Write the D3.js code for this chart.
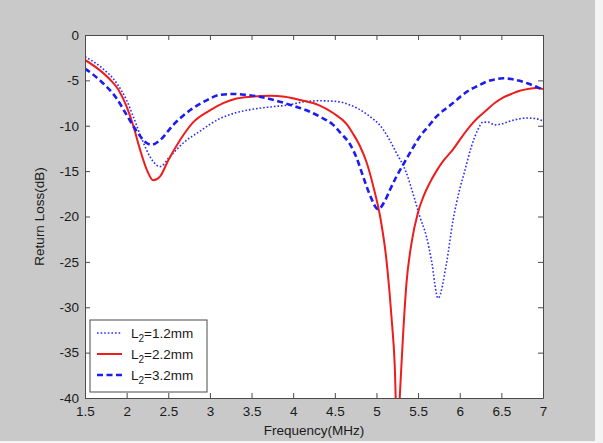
<!DOCTYPE html>
<html>
<head>
<meta charset="utf-8">
<script src="https://cdn.jsdelivr.net/npm/d3@7"></script>
<style>
  body { margin: 0; background: #f4f4f4; }
  svg { display: block; font-family: "Liberation Sans", Arial, sans-serif; }
</style>
</head>
<body>
<div class="chart"></div>
<script>
// series data (frequency in MHz, return loss in dB)
var freq12 = [1.5, 1.7, 1.88, 2.0, 2.08, 2.18, 2.28, 2.4, 2.52, 2.68, 2.88, 3.1, 3.3, 3.5, 3.75, 3.95, 4.1, 4.3, 4.5, 4.68, 4.88, 5.08, 5.24, 5.36, 5.44, 5.52, 5.6, 5.66, 5.74, 5.84, 5.92, 6.0, 6.06, 6.14, 6.22, 6.28, 6.34, 6.42, 6.5, 6.64, 6.8, 6.9, 7.0];
var loss12 = [-2.4, -3.6, -5.3, -7.2, -9.0, -11.4, -13.4, -14.5, -13.4, -11.9, -10.6, -9.3, -8.6, -8.2, -7.9, -7.7, -7.4, -7.25, -7.3, -7.7, -8.7, -10.4, -13.0, -15.2, -17.5, -20.0, -22.2, -24.8, -29.0, -25.2, -20.4, -17.0, -15.0, -12.3, -10.4, -9.6, -9.6, -9.9, -9.8, -9.4, -9.15, -9.2, -9.45];

var freq22 = [1.5, 1.68, 1.8, 1.9, 2.0, 2.08, 2.16, 2.24, 2.32, 2.4, 2.5, 2.64, 2.8, 3.0, 3.16, 3.32, 3.5, 3.72, 3.9, 4.1, 4.3, 4.48, 4.64, 4.72, 4.8, 4.88, 4.96, 5.05, 5.12, 5.18, 5.22, 5.25, 5.285, 5.32, 5.36, 5.42, 5.5, 5.56, 5.64, 5.72, 5.8, 5.92, 6.02, 6.12, 6.22, 6.32, 6.42, 6.52, 6.62, 6.72, 6.82, 6.92, 7.0];
var loss22 = [-2.75, -3.9, -4.9, -6.0, -7.9, -10.0, -12.6, -14.8, -16.0, -15.6, -13.8, -11.6, -9.6, -8.3, -7.5, -7.0, -6.8, -6.7, -6.8, -7.2, -7.7, -8.6, -9.8, -10.9, -12.2, -14.0, -16.6, -20.3, -24.8, -31.0, -36.5, -45, -39, -33, -27.4, -23.0, -19.5, -17.9, -16.3, -15.0, -13.9, -12.6, -11.3, -10.1, -9.1, -8.3, -7.5, -6.9, -6.5, -6.15, -5.95, -5.85, -5.95];

var freq32 = [1.5, 1.68, 1.88, 2.0, 2.12, 2.24, 2.3, 2.4, 2.56, 2.76, 2.96, 3.12, 3.3, 3.44, 3.6, 3.84, 4.0, 4.16, 4.32, 4.48, 4.58, 4.68, 4.76, 4.84, 4.92, 5.02, 5.1, 5.16, 5.24, 5.32, 5.44, 5.52, 5.62, 5.72, 5.82, 5.92, 6.02, 6.12, 6.22, 6.32, 6.42, 6.52, 6.62, 6.72, 6.82, 6.92, 7.0];
var loss32 = [-3.7, -5.0, -7.0, -8.8, -10.6, -11.9, -12.1, -11.6, -9.9, -8.3, -7.2, -6.6, -6.5, -6.6, -6.8, -7.35, -7.8, -8.3, -9.0, -9.9, -10.9, -12.0, -13.5, -15.6, -17.6, -19.2, -18.3, -17.1, -15.6, -14.3, -12.4, -11.2, -10.1, -9.0, -8.2, -7.5, -6.7, -6.05, -5.6, -5.15, -4.9, -4.77, -4.85, -5.05, -5.35, -5.7, -6.05];

var xTicks = [1.5, 2, 2.5, 3, 3.5, 4, 4.5, 5, 5.5, 6, 6.5, 7];
var yTicks = [0, -5, -10, -15, -20, -25, -30, -35, -40];
var legendNames = ['=1.2mm', '=2.2mm', '=3.2mm'];

var margin = { top: 35, right: 60, bottom: 45, left: 85 };
var width = 543 - margin.left;
var height = 398 - margin.top;

var root = d3.select('.chart')
    .append('svg')
    .attr('width', 603)
    .attr('height', 443);

// grey figure background
root.append('rect')
    .attr('width', 595)
    .attr('height', 441)
    .attr('fill', '#c9c9c9');

var svg = root.append('g')
    .attr('transform', `translate(${margin.left}, ${margin.top})`);

var xScale = d3.scaleLinear().domain([1.5, 7]).range([0, width]);
var yScale = d3.scaleLinear().domain([-40, 0]).range([height, 0]);

svg.append('rect')
    .attr('width', width)
    .attr('height', height)
    .attr('fill', '#fff');

svg.append('clipPath')
    .attr('id', 'plot-clip')
    .append('rect')
    .attr('width', width)
    .attr('height', height);

var series = [
    { f: freq12, v: loss12, color: '#2a2aff', w: 1.6, dash: '1.6,2' },
    { f: freq22, v: loss22, color: '#f01c1c', w: 2, dash: null },
    { f: freq32, v: loss32, color: '#1c1cf0', w: 2.6, dash: '6,3.5' }
];

var line = d3.line()
    .x(d => xScale(d[0]))
    .y(d => yScale(d[1]))
    .curve(d3.curveMonotoneX);

svg.append('g')
    .attr('clip-path', 'url(#plot-clip)')
    .selectAll('path')
    .data(series)
    .enter()
    .append('path')
    .attr('d', s => line(s.f.map((f, i) => [f, s.v[i]])))
    .style('fill', 'none')
    .style('stroke', s => s.color)
    .style('stroke-width', s => s.w)
    .style('stroke-dasharray', s => s.dash);

// axes, ticks pointing inward like matlab
var fmt = d => String(d);
var xAxis = svg.append('g')
    .attr('transform', `translate(0, ${height})`)
    .call(d3.axisBottom(xScale).tickValues(xTicks).tickFormat(fmt)
        .tickSizeInner(-5).tickSizeOuter(0).tickPadding(8));
var xTop = svg.append('g')
    .call(d3.axisTop(xScale).tickValues(xTicks).tickFormat('')
        .tickSizeInner(-5).tickSizeOuter(0));
var yAxis = svg.append('g')
    .call(d3.axisLeft(yScale).tickValues(yTicks).tickFormat(fmt)
        .tickSizeInner(-5).tickSizeOuter(0).tickPadding(6));
var yRight = svg.append('g')
    .attr('transform', `translate(${width}, 0)`)
    .call(d3.axisRight(yScale).tickValues(yTicks).tickFormat('')
        .tickSizeInner(-5).tickSizeOuter(0));

[xAxis, xTop, yAxis, yRight].forEach(function (g) {
    g.selectAll('.domain, line').attr('stroke', '#4a4a4a');
    g.selectAll('text')
        .attr('fill', '#1a1a1a')
        .style('font-size', '13.5px')
        .style('font-family', '"Liberation Sans", Arial, sans-serif');
});

svg.append('text')
    .attr('x', width / 2)
    .attr('y', height + 37)
    .attr('text-anchor', 'middle')
    .attr('fill', '#1a1a1a')
    .style('font-size', '13.5px')
    .text('Frequency(MHz)');

svg.append('text')
    .attr('transform', `translate(-41, ${height / 2}) rotate(-90)`)
    .attr('text-anchor', 'middle')
    .attr('fill', '#1a1a1a')
    .style('font-size', '13.5px')
    .text('Return Loss(dB)');

// legend
var legend = svg.append('g')
    .attr('transform', 'translate(5, 285)');

legend.append('rect')
    .attr('width', 117)
    .attr('height', 72)
    .attr('fill', '#fff')
    .attr('stroke', '#4a4a4a')
    .attr('stroke-width', 1);

var item = legend.selectAll('.item')
    .data(series)
    .enter()
    .append('g')
    .attr('class', 'item')
    .attr('transform', (d, i) => `translate(0, ${13 + i * 21})`);

item.append('line')
    .attr('x1', 7)
    .attr('x2', 32)
    .style('stroke', s => s.color)
    .style('stroke-width', s => s.w)
    .style('stroke-dasharray', s => s.dash);

var label = item.append('text')
    .attr('x', 41)
    .attr('y', 5)
    .attr('fill', '#1a1a1a')
    .style('font-size', '13.5px');
label.append('tspan').text('L');
label.append('tspan').attr('dy', 4).style('font-size', '10px').text('2');
label.append('tspan').attr('dy', -4).text((d, i) => legendNames[i]);
</script>
</body>
</html>
